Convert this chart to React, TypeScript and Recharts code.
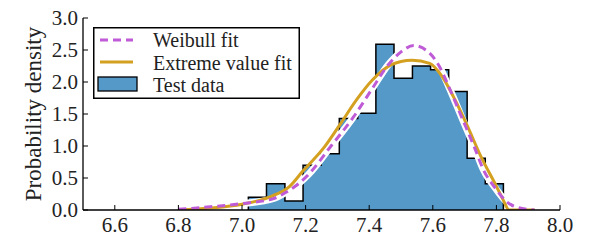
import {
  ComposedChart,
  Area,
  Line,
  XAxis,
  YAxis,
  Legend,
  Label,
} from "recharts";

// histogram of test data (bin left edges + last right edge)
const binEdges = [7.02, 7.077, 7.135, 7.192, 7.249, 7.306, 7.364, 7.421, 7.478, 7.536, 7.593, 7.65, 7.708, 7.765, 7.822];
const binDensity = [0.2, 0.41, 0.14, 0.7, 0.88, 1.43, 1.51, 2.59, 2.06, 2.25, 2.19, 1.85, 0.81, 0.41];

// Weibull fit
const weibullX = [6.8, 6.9, 7.0, 7.1, 7.14, 7.18, 7.21, 7.28, 7.35, 7.41, 7.46, 7.5, 7.54, 7.59, 7.62, 7.65, 7.69, 7.73, 7.76, 7.8, 7.83, 7.86, 7.92];
const weibullY = [0.01, 0.05, 0.1, 0.18, 0.28, 0.42, 0.56, 1.0, 1.45, 1.9, 2.27, 2.47, 2.57, 2.45, 2.25, 1.93, 1.46, 0.99, 0.62, 0.32, 0.14, 0.05, 0.0];

// extreme value fit
const extremeX = [6.8, 6.9, 7.0, 7.09, 7.15, 7.19, 7.26, 7.31, 7.36, 7.41, 7.47, 7.5, 7.535, 7.59, 7.63, 7.67, 7.71, 7.75, 7.8, 7.82, 7.84, 7.92];
const extremeY = [0.0, 0.03, 0.09, 0.21, 0.37, 0.6, 0.99, 1.35, 1.72, 2.03, 2.27, 2.32, 2.34, 2.29, 2.08, 1.72, 1.3, 0.85, 0.37, 0.17, 0.0, 0.0];

const xTicks = [6.6, 6.8, 7.0, 7.2, 7.4, 7.6, 7.8, 8.0];
const yTicks = [0, 0.5, 1.0, 1.5, 2.0, 2.5, 3.0];

const FONT = "Liberation Serif";
const BLUE = "#5599c8";
const PURPLE = "#bf5bd6";
const GOLD = "#d4a020";

const histData = [
  { x: binEdges[0], density: 0 },
  ...binDensity.map((d, i) => ({ x: binEdges[i], density: d })),
  { x: binEdges[binEdges.length - 1], density: binDensity[binDensity.length - 1] },
  { x: binEdges[binEdges.length - 1], density: 0 },
];
const weibullData = weibullX.map((x, i) => ({ x, pdf: weibullY[i] }));
const extremeData = extremeX.map((x, i) => ({ x, pdf: extremeY[i] }));

function LegendBox() {
  const rows = ["Weibull fit", "Extreme value fit", "Test data"];
  return (
    <svg width={207} height={72} style={{ display: "block" }}>
      <rect x={0.75} y={0.75} width={205.5} height={70.5} fill="#fff" stroke="#000" strokeWidth={1.5} />
      <line x1={7} y1={13} x2={40} y2={13} stroke={PURPLE} strokeWidth={3} strokeDasharray="8 5" />
      <line x1={7} y1={35} x2={40} y2={35} stroke={GOLD} strokeWidth={3} />
      <rect x={5} y={50} width={39} height={14} fill={BLUE} stroke="#000" strokeWidth={1.3} />
      {rows.map((r, i) => (
        <text key={r} x={60} y={13 + i * 22.5} dy="0.35em" style={{ fontFamily: FONT }} fontSize={20} fill="#222">
          {r}
        </text>
      ))}
    </svg>
  );
}

function YLabel(props: any) {
  const vb = props.viewBox;
  const cx = vb.x + 25;
  const cy = vb.y + vb.height / 2;
  return (
    <text
      x={cx}
      y={cy}
      transform={`rotate(-90, ${cx}, ${cy})`}
      textAnchor="middle"
      dominantBaseline="central"
      style={{ fontFamily: FONT }}
      fontSize={23}
      fill="#222"
    >
      Probability density
    </text>
  );
}

export default function App() {
  const tickStyle = { fill: "#222", fontSize: 21, fontFamily: FONT, style: { fontFamily: FONT } };
  const axisLine = { stroke: "#000", strokeWidth: 1.3 };
  const tickLine = { stroke: "#000", strokeWidth: 1 };
  return (
    <div style={{ fontFamily: FONT, margin: "-8px 0 0 -8px" }}>
      <ComposedChart width={598} height={244} margin={{ top: 18, right: 38, bottom: 4, left: 8 }}>
        <XAxis
          xAxisId="b"
          dataKey="x"
          type="number"
          domain={[6.5, 8.0]}
          ticks={xTicks}
          interval={0}
          tickFormatter={(v: number) => v.toFixed(1)}
          height={30}
          tickSize={-5}
          tickMargin={12}
          tick={tickStyle}
          axisLine={axisLine}
          tickLine={tickLine}
          allowDataOverflow
        />
        <XAxis
          xAxisId="t"
          orientation="top"
          dataKey="x"
          type="number"
          domain={[6.5, 8.0]}
          ticks={xTicks}
          interval={0}
          height={0}
          tickSize={-5}
          tick={false}
          axisLine={axisLine}
          tickLine={tickLine}
          allowDataOverflow
        />
        <YAxis
          yAxisId="l"
          type="number"
          domain={[0, 3]}
          ticks={yTicks}
          interval={0}
          tickFormatter={(v: number) => v.toFixed(1)}
          width={75}
          tickSize={-5}
          tickMargin={10}
          tick={tickStyle}
          axisLine={axisLine}
          tickLine={tickLine}
          allowDataOverflow
        >
          <Label content={YLabel} />
        </YAxis>
        <YAxis
          yAxisId="r"
          orientation="right"
          type="number"
          domain={[0, 3]}
          ticks={yTicks}
          interval={0}
          width={0}
          tickSize={-5}
          tick={false}
          axisLine={axisLine}
          tickLine={tickLine}
          allowDataOverflow
        />
        <Area
          xAxisId="b"
          yAxisId="l"
          data={histData}
          dataKey="density"
          type="stepAfter"
          fill={BLUE}
          fillOpacity={1}
          stroke="#000"
          strokeWidth={1.5}
          isAnimationActive={false}
          legendType="none"
        />
        <Line
          xAxisId="b"
          yAxisId="l"
          data={weibullData}
          dataKey="pdf"
          type="monotone"
          stroke="#fff"
          strokeWidth={7}
          dot={false}
          isAnimationActive={false}
          legendType="none"
        />
        <Line
          xAxisId="b"
          yAxisId="l"
          data={extremeData}
          dataKey="pdf"
          type="monotone"
          stroke={GOLD}
          strokeWidth={3}
          dot={false}
          isAnimationActive={false}
          legendType="none"
        />
        <Line
          xAxisId="b"
          yAxisId="l"
          data={weibullData}
          dataKey="pdf"
          type="monotone"
          stroke={PURPLE}
          strokeWidth={3}
          strokeDasharray="8 5"
          dot={false}
          isAnimationActive={false}
          legendType="none"
        />
        <Legend
          layout="horizontal"
          verticalAlign="middle"
          align="center"
          wrapperStyle={{ left: 93, top: 27, width: 207, height: 72 }}
          content={() => <LegendBox />}
        />
      </ComposedChart>
    </div>
  );
}
